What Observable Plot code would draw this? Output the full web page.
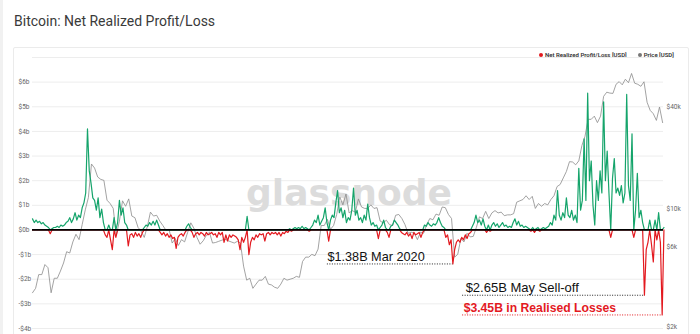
<!DOCTYPE html>
<html>
<head>
<meta charset="utf-8">
<script src="https://cdn.jsdelivr.net/npm/d3@7"></script>
<script src="https://cdn.jsdelivr.net/npm/@observablehq/plot@0.6"></script>
<style>
  html, body { margin: 0; padding: 0; background: #fff; }
  #wrap { position: relative; width: 700px; height: 334px; overflow: hidden; font-family: Roboto, "Liberation Sans", sans-serif; }
  #edge { position: absolute; left: 0; top: 0; width: 3px; height: 334px; background: #f1f1f1; }
  #card { position: absolute; left: 13px; top: 47px; width: 674px; height: 310px; border: 1px solid #ebebeb; border-radius: 2px; }
  #title { position: absolute; left: 14px; top: 13px; font-size: 14px; font-weight: 400; color: #3a3a3a; white-space: nowrap; }
  #legend { position: absolute; left: 539px; top: 51px; font-size: 6px; font-weight: 600; color: #333; white-space: nowrap; }
  #legend .dot { display: inline-block; width: 4px; height: 4px; border-radius: 50%; margin-right: 2px; vertical-align: 0px; }
  #chart { position: absolute; left: 0; top: 0; }
</style>
</head>
<body>
<div id="wrap">
  <div id="edge"></div>
  <div id="card"></div>
  <div id="title">Bitcoin: Net Realized Profit/Loss</div>
  <div id="legend"><span class="dot" style="background:#e3191f"></span>Net Realized Profit/Loss [USD]<span style="display:inline-block;width:11px"></span><span class="dot" style="background:#777"></span>Price [USD]</div>
  <div id="chart"></div>
</div>
<script>
// ---- Data ----
const plStart = "2017-08-01";     // first sample date
const plStepDays = 4;             // one sample every 4 days
// Net realized profit/loss, billions USD
const plValues = [
  0.45,0.3,0.4,0.3,0.35,0.25,0.3,0.2,0.15,0.1,
  -0.15,0.05,0.1,0.1,0.15,0.1,0.2,0.15,0.2,0.3,
  0.35,0.5,0.3,0.45,0.7,0.4,0.6,0.5,0.9,1.1,
  1.5,4.1,2.4,1.9,1.3,1.2,0.8,1.3,0.5,0.85,
  0.3,-0.2,-0.3,0.2,-0.4,-0.8,0.5,-0.3,0.3,1.2,
  0.6,0.9,0.3,0.2,-0.65,-0.2,-0.15,-0.3,-0.1,-0.25,
  -0.15,-0.3,-0.1,0.1,0.2,0.15,0.3,0.2,0.35,0.2,
  0.4,0.2,-0.1,-0.2,-0.1,-0.25,-0.15,-0.3,-0.2,-0.35,
  -0.3,-0.75,-0.3,-0.2,-0.15,-0.25,-0.1,0.15,0.25,0.1,
  -0.1,-0.3,-0.15,-0.1,-0.2,-0.1,-0.15,-0.25,-0.1,-0.2,
  -0.15,-0.1,-0.2,-0.15,-0.3,-0.1,-0.2,-0.1,-0.5,-0.2,
  -0.45,-0.2,-0.3,-0.2,-0.25,-0.3,-0.4,-0.8,-0.3,-0.5,
  -0.3,0.55,-1.0,-0.5,-0.3,-0.4,-0.2,-0.3,-0.15,-0.2,
  -0.15,-0.45,-0.15,-0.1,-0.2,-0.1,-0.15,-0.1,-0.2,-0.1,
  -0.25,-0.1,-0.15,-0.05,-0.1,0.05,-0.05,0.05,0.1,0.05,
  0.1,0.05,0.15,0.05,0.1,0.05,-0.05,0.1,0.2,0.4,
  0.3,0.6,0.2,0.35,0.5,0.9,0.3,-0.45,0.4,0.6,
  0.5,1.1,1.6,0.7,0.9,0.5,0.8,0.3,0.5,0.4,
  0.8,1.7,0.6,0.8,0.4,0.5,0.3,0.6,0.4,1.05,
  0.5,0.2,0.3,0.15,0.2,-0.35,0.1,0.2,0.4,0.1,
  -0.1,-0.3,0.15,0.2,0.4,0.3,0.2,0.05,-0.1,-0.15,
  -0.2,-0.1,-0.25,-0.15,-0.35,-0.1,-0.2,-0.15,-0.1,-0.3,
  -0.1,0.2,0.15,0.3,0.2,0.15,0.25,0.2,0.3,0.5,
  0.3,0.15,0.1,-0.3,-0.2,-0.6,-0.4,-1.38,-0.8,-0.5,
  -0.4,-0.5,-0.3,-0.4,-0.2,-0.35,-0.15,-0.1,0.15,0.3,
  0.6,0.3,0.4,0.2,0.45,0.15,-0.1,0.2,-0.05,0.2,
  0.3,0.15,0.25,0.1,0.2,0.3,0.15,0.2,0.1,0.15,
  0.1,0.3,0.45,0.2,0.35,0.15,0.2,0.1,0.15,0.1,
  0.05,-0.05,0.1,-0.1,0.05,0.1,-0.05,0.05,0.1,0.05,
  0.1,0.15,0.3,0.2,0.6,0.4,1.6,0.6,0.4,0.7,
  0.5,1.3,0.6,0.5,0.8,0.4,0.6,0.3,2.5,0.8,
  1.2,3.7,1.2,5.55,2.0,2.8,1.0,0.2,2.0,1.2,
  2.4,1.5,5.2,2.0,3.2,1.5,-0.3,2.1,2.9,1.5,
  1.7,1.4,1.8,1.1,1.5,5.5,1.8,1.2,3.9,-0.3,
  0.8,2.3,0.5,0.8,0.3,-2.65,-0.8,-0.5,0.4,-0.6,
  -1.3,0.4,-0.4,0.7,-0.5,-3.45,0.1
];

const priceStart = "2017-08-01";
const priceStepDays = 7;          // weekly samples
// BTC price, USD
const priceValues = [
  3200,3400,4100,4100,4700,4500,3200,3900,3900,4300,
  4800,5600,5500,6400,7100,6600,8100,9900,11700,18500,
  17500,15500,15000,14800,11300,10800,10100,7000,8500,11200,
  10400,11500,9100,8900,7800,7400,6800,7900,9600,9100,
  9200,8500,8000,7500,7600,6300,6700,6100,6600,6400,
  7300,8300,7700,6800,6200,6500,7000,7300,6300,6350,
  6450,6550,6650,6500,6400,6300,6450,6300,4600,3800,
  3900,3400,3600,3800,3800,4000,3600,3560,3450,3400,
  3600,3900,3800,3850,3900,4000,3950,4900,5200,5200,
  5400,5300,5800,8000,8000,8700,7600,8000,9300,11800,
  10600,12300,9500,9800,9600,11500,10300,10100,10100,10600,
  10100,10200,8500,8300,8600,8100,8000,9200,9300,8800,
  8100,7200,7300,7200,6600,7300,7200,8100,8800,8650,
  9350,9200,10300,10200,9300,8800,5200,5400,6700,6400,
  7200,6850,6900,7800,9000,8800,9700,8800,9500,9800,
  9500,9600,9150,9250,9250,9400,11000,11200,11400,12000,
  11400,11900,10100,10800,10400,10800,10600,11400,12000,13600,
  14000,15300,16700,19100,19000,18300,19300,23800,27000,34000,
  34000,35500,32500,35500,46500,49200,48600,48400,54800,56800,
  54400,58700,56000,63500,55600,54800,53300,56700,42900,38400,
  36700,33500,40200,32500
];

// Axis ticks
const leftTicks = [-4, -3, -2, -1, 0, 1, 2, 3, 4, 5, 6];
const gridTicks = [-4, -3, -2, -1, 0, 1, 2, 3, 4, 5, 6, 7];
const priceTicks = [2000, 6000, 10000, 40000];
const priceTickLabels = ["$2k", "$6k", "$10k", "$40k"];

// Annotations
const annotationLabels = ["$1.38B Mar 2020", "$2.65B May Sell-off", "$3.45B in Realised Losses"];
const annotationValues = [-1.38, -2.65, -3.45];
const annotationDates = ["2020-03-06", "2021-05-12", "2021-06-21"];

// ---- Build tables ----
const day = (s) => new Date(s + "T00:00:00Z");
const pl = plValues.map((v, i) => ({date: d3.utcDay.offset(day(plStart), i * plStepDays), v}));
const price = priceValues.map((p, i) => ({date: d3.utcDay.offset(day(priceStart), i * priceStepDays), p}));
// log price mapped onto the left ($b) axis so both share one y scale
const toLeft = (p) => -3.95 + 6.86 * Math.log10(p / 2000);
const priceTickY = priceTicks.map(toLeft);
const ann = annotationLabels.map((label, i) => ({label, value: annotationValues[i], end: day(annotationDates[i])}));

const GREEN = "#15a46b", RED = "#e3191f";
const fmtB = (d) => (d < 0 ? "-$" + (-d) : "$" + d) + "b";
const annFont = "'Liberation Sans', Arial, sans-serif";

const chart = Plot.plot({
  width: 700,
  height: 334,
  marginTop: 57,
  marginBottom: 6,
  marginLeft: 32,
  marginRight: 37,
  style: {background: "transparent", fontFamily: "Roboto, 'Liberation Sans', sans-serif"},
  x: {type: "utc", domain: [day("2017-08-01"), day("2021-06-24")], axis: null},
  y: {domain: [-4, 7], axis: null},
  marks: [
    Plot.ruleY(gridTicks, {stroke: "#ededed", strokeWidth: 1}),
    Plot.text(["glassnode"], {frameAnchor: "middle", dx: 1, dy: 0, fontSize: 36, fontWeight: "bold", fill: "#dcdcdc",
      fontFamily: "'DejaVu Sans', sans-serif"}),
    Plot.line(price, {x: "date", y: (d) => toLeft(d.p), stroke: "#8c8c8c", strokeWidth: 0.8}),
    Plot.line(pl, {x: "date", y: (d) => Math.max(0, d.v), stroke: GREEN, strokeWidth: 1.2}),
    Plot.line(pl, {x: "date", y: (d) => Math.min(0, d.v), stroke: RED, strokeWidth: 1.2}),
    Plot.ruleY([0], {stroke: "#000", strokeWidth: 1.7}),
    // annotation dotted guides
    Plot.ruleY(ann.slice(0, 1), {y: "value", x1: day("2019-05-28"), x2: "end", stroke: "#222", strokeDasharray: "1,1.5", strokeWidth: 1}),
    Plot.ruleY(ann.slice(1, 2), {y: "value", x1: day("2020-03-28"), x2: "end", stroke: "#222", strokeDasharray: "1,1.5", strokeWidth: 1}),
    Plot.ruleY(ann.slice(2, 3), {y: "value", x1: day("2020-03-28"), x2: "end", stroke: RED, strokeDasharray: "1,1.5", strokeWidth: 1}),
    Plot.text(ann.slice(0, 1), {x: day("2019-05-28"), y: "value", text: "label", textAnchor: "start", lineAnchor: "bottom",
      dy: -3, dx: 0, fontSize: 12.7, fill: "#111", fontFamily: annFont}),
    Plot.text(ann.slice(1, 2), {x: day("2020-03-28"), y: "value", text: "label", textAnchor: "start", lineAnchor: "bottom",
      dy: -3, dx: 3, fontSize: 13, fill: "#111", fontFamily: annFont}),
    Plot.text(ann.slice(2, 3), {x: day("2020-03-28"), y: "value", text: "label", textAnchor: "start", lineAnchor: "bottom",
      dy: -3, dx: 1, fontSize: 12.2, fontWeight: "bold", fill: RED, fontFamily: annFont}),
    Plot.axisY(leftTicks, {anchor: "left", label: null, tickSize: 0, tickPadding: 0, textAnchor: "start", dx: -14,
      tickFormat: fmtB, fontSize: 6.5, color: "#666"}),
    Plot.axisY(priceTickY, {anchor: "right", label: null, tickSize: 0, tickPadding: 3,
      tickFormat: (d) => priceTickLabels[priceTickY.indexOf(d)], fontSize: 6.5, color: "#666"})
  ]
});
document.getElementById("chart").appendChild(chart);
</script>
</body>
</html>
